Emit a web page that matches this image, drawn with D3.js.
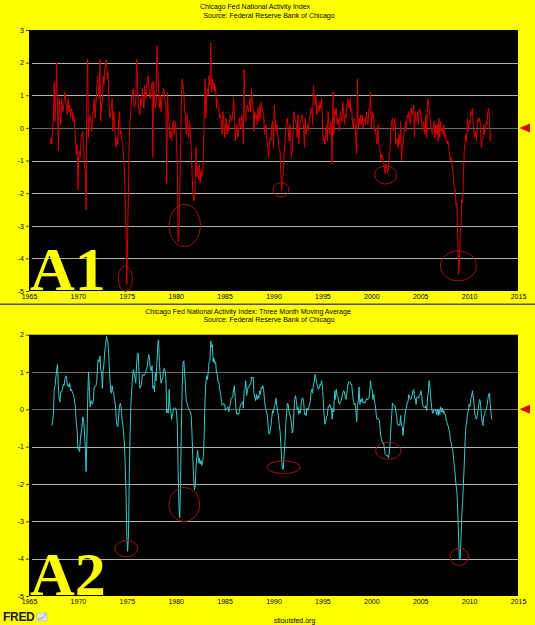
<!DOCTYPE html>
<html><head><meta charset="utf-8">
<script src="https://cdn.jsdelivr.net/npm/d3@7"></script>
<style>
body{margin:0;background:#ffff00;}
svg{display:block;}
</style>
</head><body>
<svg id="chart" width="535" height="625"></svg>
<script>
// ---------------- DATA ----------------
const startYear = 1967, startMonth = 3; // first observation: March 1967
// Chicago Fed National Activity Index, monthly (read from the chart)
const cfnai = [
  -0.5,-0.3,-0.5,-0.1,0.3,1.4,0.2,1.0,2.0,0.6,                 // 1967 (Mar-Dec)
  -0.7,0.9,0.4,0.1,0.9,0.6,0.5,0.8,1.1,0.8,0.7,0.4,            // 1968
  0.9,0.5,0.7,0.3,0.6,0.5,0.2,0.4,0.0,-0.3,-0.8,-0.5,          // 1969
  -1.9,-0.8,-0.7,-0.9,-0.3,-0.2,-0.1,-0.5,-1.2,-1.3,-2.5,1.2,  // 1970
  2.1,-0.3,0.1,0.4,0.2,-0.1,0.3,0.6,0.9,0.3,0.7,1.1,           // 1971
  1.6,1.3,0.9,2.1,0.2,0.7,0.8,1.6,1.3,1.8,2.0,2.1,             // 1972
  1.5,1.7,0.9,0.3,0.4,0.6,0.9,-0.1,0.5,0.3,-0.4,-0.6,          // 1973
  -0.3,-0.5,0.2,0.5,-0.2,-0.1,-0.4,-0.6,-0.9,-1.2,-2.2,-3.2,   // 1974
  -4.8,-3.4,-2.0,-0.3,0.2,0.5,0.9,1.1,1.2,0.6,0.7,0.8,         // 1975
  2.1,1.6,0.8,0.5,0.4,0.9,0.7,1.2,0.9,0.6,1.3,1.0,             // 1976
  0.9,1.5,1.6,1.3,1.0,0.9,1.2,1.4,-0.9,1.4,0.9,0.6,            // 1977
  0.8,2.5,1.9,1.2,0.6,1.0,0.5,0.9,1.0,1.2,1.1,0.8,             // 1978
  0.6,-1.7,1.1,0.3,0.2,-0.3,-0.1,-0.4,0.1,0.2,-0.2,0.1,        // 1979
  0.2,-0.5,-1.0,-3.5,-3.3,-1.9,-0.6,1.0,1.5,1.3,1.1,0.5,       // 1980
  0.3,-0.2,0.4,0.0,-0.3,0.2,-0.1,-0.6,-1.3,-2.0,-2.25,-2.2,    // 1981
  -1.7,-0.6,-1.5,-1.2,-1.6,-1.1,-1.7,-1.3,-1.5,-1.4,-0.9,0.3,  // 1982
  1.5,0.3,0.9,1.2,1.0,1.6,1.3,2.6,1.1,1.5,1.2,1.4,             // 1983
  1.1,1.3,0.6,0.9,0.7,0.6,0.3,0.4,0.1,-0.2,0.5,0.2,            // 1984
  -0.3,0.0,0.3,-0.2,0.1,-0.1,0.2,0.4,0.3,0.2,0.5,0.9,          // 1985
  0.5,-0.4,-0.1,0.1,-0.3,-0.2,0.3,0.1,0.0,0.4,0.2,-0.5,        // 1986
  1.8,0.3,0.2,0.6,0.7,0.5,0.6,0.9,0.5,1.2,0.8,0.6,             // 1987
  -0.1,0.5,0.3,0.4,0.1,0.6,0.2,0.7,0.3,0.8,0.6,0.5,            // 1988
  0.4,-0.2,0.0,0.1,-0.4,-0.6,-0.9,-0.5,-0.3,-0.4,0.1,0.2,      // 1989
  -0.6,0.7,0.3,-0.1,0.1,-0.2,-0.4,-0.6,-0.7,-1.4,-1.9,-1.5,    // 1990
  -1.4,-0.8,-0.5,0.0,0.2,0.3,-0.1,-0.4,0.1,-0.3,-0.9,-0.7,     // 1991
  -0.1,0.5,0.4,0.2,0.1,-0.3,0.4,-0.5,0.0,0.2,0.3,0.4,          // 1992
  0.2,0.0,-0.6,0.3,-0.2,0.0,0.1,-0.1,0.3,0.4,0.6,0.6,          // 1993
  0.1,1.3,0.8,0.7,1.0,0.4,0.5,0.7,0.5,0.8,0.6,0.9,             // 1994
  0.3,-0.4,-0.3,-0.5,-0.2,0.1,-0.4,0.5,0.1,-0.2,0.2,0.1,       // 1995
  -1.1,1.1,-0.2,0.6,0.4,0.6,0.1,0.3,0.2,-0.1,0.5,0.3,          // 1996
  0.2,0.8,0.5,0.1,0.4,0.3,0.6,0.9,0.7,0.6,0.9,0.5,             // 1997
  0.6,0.1,0.0,0.3,0.2,-0.4,-0.8,1.5,0.0,0.3,0.1,0.4,           // 1998
  0.1,0.4,0.0,0.2,0.3,0.1,0.5,0.2,0.1,0.6,0.6,1.1,             // 1999
  0.0,0.5,0.3,0.4,-0.1,0.0,-0.3,-0.5,0.1,-0.4,-0.6,-0.7,       // 2000
  -1.0,-0.8,-0.9,-1.0,-1.2,-1.4,-1.1,-1.2,-1.4,-1.3,-0.8,-0.7, // 2001
  0.0,0.2,0.3,-0.1,0.1,0.3,-0.5,-0.3,-0.4,-0.6,-0.2,-0.5,      // 2002
  0.2,-1.0,-0.6,-0.5,-0.2,0.0,0.2,-0.1,0.4,0.3,0.5,0.2,        // 2003
  0.1,0.6,0.4,0.5,0.7,-0.3,0.5,0.2,0.3,0.5,0.1,0.6,            // 2004
  0.5,0.4,0.1,-0.1,0.2,0.1,-0.2,0.4,-0.3,0.9,0.8,0.6,          // 2005
  0.3,0.0,-0.1,-0.2,0.0,0.2,-0.3,0.1,-0.2,0.1,-0.4,0.3,        // 2006
  -0.3,0.2,-0.1,0.0,-0.2,0.1,-0.3,-0.2,-0.4,-0.5,-0.4,-0.6,    // 2007
  -0.8,-1.0,-0.9,-1.1,-1.3,-1.6,-1.8,-1.9,-2.4,-2.3,-3.3,-4.5, // 2008
  -4.2,-3.3,-3.0,-2.2,-2.3,-1.5,-0.7,-0.5,-0.2,-0.4,0.3,-0.1,  // 2009
  0.2,0.1,0.5,0.4,0.6,0.1,-0.2,-0.3,-0.1,-0.4,0.0,0.3,         // 2010
  0.2,0.3,0.0,-0.6,-0.4,-0.3,0.1,-0.2,0.0,0.2,0.1,0.5,         // 2011
  0.6,0.2,-0.4,-0.2,-0.2                                       // 2012 (Jan-May)
];
const xTicks = [1965,1970,1975,1980,1985,1990,1995,2000,2005,2010,2015];
const yTicksTop = [3,2,1,0,-1,-2,-3,-4,-5];
const yTicksBottom = [2,1,0,-1,-2,-3,-4,-5];
const titleTop = ["Chicago Fed National Activity Index", "Source: Federal Reserve Bank of Chicago"];
const titleBottom = ["Chicago Fed National Activity Index: Three Month Moving Average", "Source: Federal Reserve Bank of Chicago"];
const panelLabels = ["A1", "A2"];
// hand-drawn red rings: centre (year, value) and half-extent in data units
const ringsTop = [
  {year:1974.85, value:-4.62, dYear:0.72, dValue:0.39},
  {year:1980.92, value:-2.99, dYear:1.60, dValue:0.65},
  {year:1990.77, value:-1.90, dYear:0.82, dValue:0.22},
  {year:2001.47, value:-1.44, dYear:1.12, dValue:0.28},
  {year:2008.90, value:-4.23, dYear:1.84, dValue:0.46}
];
const ringsBottom = [
  {year:1974.95, value:-3.73, dYear:1.16, dValue:0.22},
  {year:1980.88, value:-2.55, dYear:1.56, dValue:0.46},
  {year:1991.04, value:-1.55, dYear:1.71, dValue:0.17},
  {year:2001.74, value:-1.11, dYear:1.30, dValue:0.23},
  {year:2009.00, value:-3.95, dYear:0.95, dValue:0.23}
];
const footerSite = "stlouisfed.org";

// ---------------- PREP ----------------
const series = cfnai.map((v, i) => {
  const m = startMonth - 1 + i;
  return {t: startYear + Math.floor(m / 12) + (m % 12) / 12, v};
});
// three-month moving average of the index (as stated in the chart title)
const seriesMA = series.slice(2).map((d, i) => ({t: d.t, v: d3.mean(series.slice(i, i + 3), e => e.v)}));

// ---------------- DRAW ----------------
const SANS = "'Liberation Sans', Arial, sans-serif";
const SERIF = "'Liberation Serif', 'Times New Roman', serif";
const svg = d3.select("#chart");
svg.append("rect").attr("width", 535).attr("height", 625).attr("fill", "#ffff00");

const x = d3.scaleLinear().domain([1965, 2015]).range([29, 518]);

function panel(cfg) {
  const g = svg.append("g");
  const y = d3.scaleLinear().domain([-5, cfg.yTicks[0]]).range([cfg.y1, cfg.y0]);
  const [xl, xr] = x.range();

  g.append("rect").attr("x", xl).attr("y", cfg.y0).attr("width", xr - xl).attr("height", cfg.y1 - cfg.y0).attr("fill", "#000");

  // gridlines
  g.selectAll(".grid").data(cfg.yTicks.filter(t => t > -5 && t < cfg.yTicks[0])).join("line")
    .attr("x1", xl + 3).attr("x2", xr)
    .attr("y1", d => Math.round(y(d)) + 0.5).attr("y2", d => Math.round(y(d)) + 0.5)
    .attr("stroke", d => cfg.darkLines.includes(d) ? "#6a6a6a" : "#b4b4b4")
    .attr("stroke-width", 1.1);

  // big panel label (behind the line)
  g.append("text").attr("x", xl + 1).attr("y", cfg.y1 - 1)
    .style("font-family", SERIF).style("font-weight", "bold")
    .style("font-size", "62px").attr("fill", "#ffff00").text(cfg.label);

  // y axis
  const ay = g.append("g").attr("transform", `translate(${xl},0)`)
    .call(d3.axisLeft(y).tickValues(cfg.yTicks).tickSize(3).tickPadding(2).tickFormat(d => String(d)));
  ay.select(".domain").remove();
  ay.selectAll("line").attr("stroke", "#444");
  ay.selectAll("text").style("font-size", "7px").attr("fill", "#000").style("font-family", SANS);

  // x axis
  const ax = g.append("g").attr("transform", `translate(0,${cfg.y1})`)
    .call(d3.axisBottom(x).tickValues(xTicks).tickSize(0).tickPadding(3).tickFormat(d3.format("d")));
  ax.select(".domain").remove();
  ax.selectAll("text").style("font-size", "7px").attr("fill", "#000").style("font-family", SANS);

  // data line
  const clipId = "clip" + cfg.label;
  g.append("clipPath").attr("id", clipId).append("rect")
    .attr("x", xl).attr("y", cfg.y0).attr("width", xr - xl).attr("height", cfg.y1 - cfg.y0);
  g.append("path").datum(cfg.data).attr("clip-path", `url(#${clipId})`)
    .attr("d", d3.line().x(d => x(d.t)).y(d => y(d.v)))
    .attr("fill", "none").attr("stroke", cfg.color).attr("stroke-width", 1).attr("stroke-linejoin", "round");

  // rings
  g.selectAll(".ring").data(cfg.rings).join("ellipse")
    .attr("cx", d => x(d.year)).attr("cy", d => y(d.value))
    .attr("rx", d => x(d.year + d.dYear) - x(d.year))
    .attr("ry", d => y(d.value - d.dValue) - y(d.value))
    .attr("fill", "none").attr("stroke", "#a01414").attr("stroke-width", 1);

  // red marker at zero, right side
  const y0 = y(0);
  g.append("path").attr("d", `M${xr + 1.5},${y0} L${xr + 12},${y0 - 4.5} L${xr + 12},${y0 + 4.5} Z`).attr("fill", "#e0001a");

  // titles
  [0, 1].forEach(i => g.append("text").attr("x", cfg.titleX[i]).attr("y", cfg.titleY[i]).attr("text-anchor", "middle")
    .style("font-size", "7px").style("font-family", SANS).attr("fill", "#000").text(cfg.titles[i]));
}

panel({y0: 30, y1: 291, yTicks: yTicksTop, darkLines: [0], data: series, color: "#d40000",
       rings: ringsTop, label: panelLabels[0], titles: titleTop, titleX: [255, 269], titleY: [8.6, 17.6]});
panel({y0: 334.7, y1: 596, yTicks: yTicksBottom, darkLines: [1, 0], data: seriesMA, color: "#3cc8c8",
       rings: ringsBottom, label: panelLabels[1], titles: titleBottom, titleX: [248, 269], titleY: [313.8, 322.3]});

// separator
svg.append("rect").attr("x", 0).attr("y", 303.5).attr("width", 535).attr("height", 1.5).attr("fill", "#505050");

// footer
svg.append("text").attr("x", 3).attr("y", 621).style("font-size", "12px").style("font-weight", "bold")
  .style("font-family", SANS).attr("fill", "#1a1a1a").attr("letter-spacing", -0.3).text("FRED");
const icon = svg.append("g").attr("transform", "translate(37,613)");
icon.append("rect").attr("width", 10).attr("height", 8).attr("fill", "#dfe6ee").attr("stroke", "#9aa8b8").attr("stroke-width", 0.5);
icon.append("path").attr("d", "M1,7 L3,5 L5,6 L7,3 L9,1").attr("fill", "none").attr("stroke", "#6f8fb5").attr("stroke-width", 0.8);
svg.append("text").attr("x", 294.5).attr("y", 622.5).attr("text-anchor", "middle").style("font-size", "7px")
  .style("font-family", SANS).attr("fill", "#000").text(footerSite);
</script>
</body></html>
